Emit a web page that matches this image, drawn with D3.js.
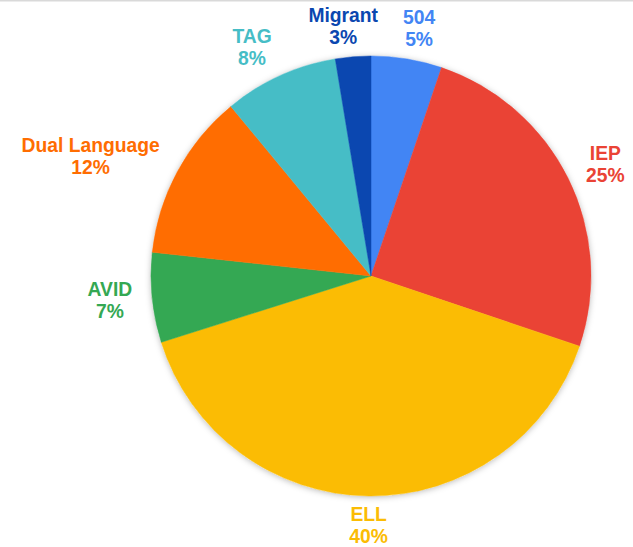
<!DOCTYPE html>
<html>
<head>
<meta charset="utf-8">
<script src="https://cdn.jsdelivr.net/npm/d3@7/dist/d3.min.js"></script>
<style>
  html, body { margin: 0; padding: 0; background: #fff; }
  svg { display: block; }
</style>
</head>
<body>
<svg id="chart" width="633" height="547"></svg>
<script>
// ---- data ----
const categories = ["504", "IEP", "ELL", "AVID", "Dual Language", "TAG", "Migrant"];
const values = [5.2, 25.0, 40.0, 6.6, 12.3, 8.4, 2.6];
const colors = ["#4285F4", "#EA4335", "#FBBC04", "#34A853", "#FF6D01", "#46BDC6", "#0B47B0"];

const W = 633, H = 547;
const cx = 371, cy = 276, R = 220;
const fontSize = 19.3;

const svg = d3.select("#chart");

// top border line
svg.append("rect").attr("x", 0).attr("y", 0).attr("width", W).attr("height", 1.5).attr("fill", "#d9d9d9");

const defs = svg.append("defs");
const f = defs.append("filter").attr("id", "shadow")
  .attr("x", "-20%").attr("y", "-20%").attr("width", "140%").attr("height", "140%");
f.append("feDropShadow").attr("dx", 0).attr("dy", 1).attr("stdDeviation", 3)
  .attr("flood-color", "#000").attr("flood-opacity", 0.28);

const data = categories.map((c, i) => ({ name: c, value: values[i], color: colors[i] }));
const total = d3.sum(values);

const pie = d3.pie().value(d => d.value).sort(null);
const arcs = pie(data);
const arc = d3.arc().innerRadius(0).outerRadius(R);

const g = svg.append("g").attr("transform", `translate(${cx},${cy})`);

// shadow base
g.append("circle").attr("r", R).attr("fill", "#fff").attr("filter", "url(#shadow)");

g.selectAll("path.slice").data(arcs).enter().append("path")
  .attr("class", "slice")
  .attr("d", arc)
  .attr("fill", d => d.data.color)
  .attr("stroke", d => d.data.color)
  .attr("stroke-width", 0.5);

// labels
const font = `bold ${fontSize}px "Liberation Sans", Arial, sans-serif`;
const ctx = document.createElement("canvas").getContext("2d");
ctx.font = font;

const labelRy = 250;   // vertical placement radius
const labelRx = 240;   // radius of the near edge of side labels
const labels = arcs.map(d => {
  const a = (d.startAngle + d.endAngle) / 2;
  const ux = Math.sin(a), uy = -Math.cos(a);
  const pct = Math.round(d.data.value / total * 100) + "%";
  const w = Math.max(ctx.measureText(d.data.name).width, ctx.measureText(pct).width);
  let x;
  if (Math.abs(ux) < 0.3) x = ux * labelRy;
  else x = ux * labelRx + Math.sign(ux) * w / 2;
  return { d, name: d.data.name, pct, w, x, y: uy * labelRy, color: d.data.color };
});

// simple horizontal collision push for labels on the same row
const minGap = 25, h = 40;
for (let iter = 0; iter < 20; iter++) {
  for (let i = 0; i < labels.length; i++) {
    for (let j = i + 1; j < labels.length; j++) {
      const A = labels[i], B = labels[j];
      if (Math.abs(A.y - B.y) >= h) continue;
      const need = A.w / 2 + B.w / 2 + minGap;
      const dx = B.x - A.x;
      if (Math.abs(dx) < need) {
        const push = (need - Math.abs(dx)) / 2;
        const s = dx >= 0 ? 1 : -1;
        A.x -= s * push; B.x += s * push;
      }
    }
  }
}

labels.forEach(L => {
  const txt = g.append("text")
    .attr("text-anchor", "middle")
    .attr("fill", L.color)
    .style("font", font);
  txt.append("tspan").attr("x", L.x).attr("y", L.y - 5).text(L.name);
  txt.append("tspan").attr("x", L.x).attr("y", L.y + 17).text(L.pct);
});
</script>
</body>
</html>
